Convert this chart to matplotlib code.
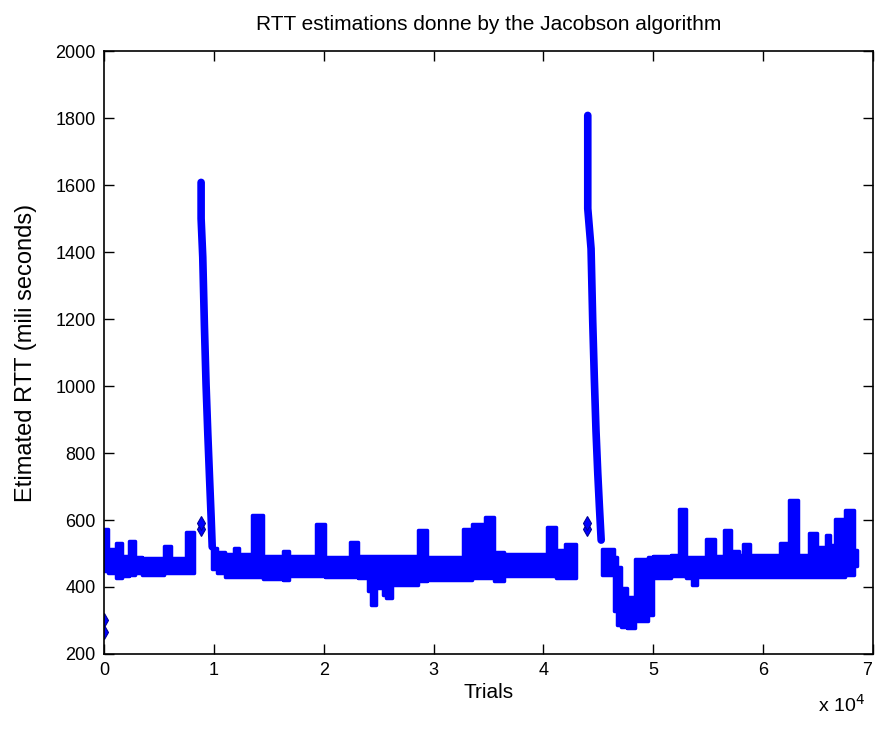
import numpy as np
import matplotlib
matplotlib.use('Agg')
import matplotlib.pyplot as plt
import matplotlib.transforms as mtransforms

plt.rcParams['font.family'] = ['Liberation Sans', 'DejaVu Sans']

# RTT band (start of each trial segment, lowest and highest estimate in it)
band_x = [0, 400, 1100, 1600, 2300, 2800, 3500, 5500, 6100, 7500, 8200, 8800,
          9800, 10300, 11000, 11800, 12300, 13500, 14500, 16300, 16800, 19300,
          20100, 22400, 23100, 24000, 24300, 24800, 25400, 25700, 26200, 28600,
          29400, 32700, 33500, 34700, 35500, 36400, 40300, 41100, 42000, 43000,
          44300, 45300, 46400, 46700, 47100, 47600, 48300, 49500, 50000, 51600,
          52300, 53000, 53500, 54000, 54800, 55600, 56400, 57100, 57800, 58200,
          58800, 61500, 62300, 63200, 64200, 64900, 65700, 66100, 66500, 67400,
          68300, 68500]
band_lo = [447, 442, 427, 432, 437, 442, 437, 442, 442, 442, 452, np.nan,
           455, 442, 429, 429, 429, 429, 425, 422, 434, 434,
           431, 431, 427, 387, 347, 397, 377, 367, 407, 417,
           422, 422, 427, 427, 417, 432, 432, 427, 427, 427,
           np.nan, 437, 327, 287, 282, 279, 297, 317, 427, 434,
           434, 427, 405, 429, 431, 431, 431, 431, 431, 431,
           431, 431, 431, 431, 431, 431, 431, 431, 431, 437,
           464, 464]
band_hi = [574, 514, 530, 494, 536, 489, 486, 521, 486, 564, 515, np.nan,
           516, 504, 499, 516, 499, 614, 494, 507, 492, 589,
           489, 534, 492, 492, 492, 492, 492, 492, 492, 569,
           489, 574, 589, 609, 504, 499, 579, 509, 529, 514,
           np.nan, 514, 489, 459, 397, 369, 484, 489, 494, 495,
           634, 490, 490, 490, 542, 494, 569, 506, 495, 527,
           495, 530, 659, 495, 560, 519, 555, 524, 604, 629,
           509, 509]

# the two RTT bursts
spike1_x = [8840, 8840, 8990, 9140, 9290, 9450, 9600, 9750, 9850]
spike1_y = [1608, 1500, 1385, 1180, 1005, 857, 732, 610, 520]
spike2_x = [44030, 44030, 44330, 44480, 44630, 44780, 44940, 45090, 45250]
spike2_y = [1808, 1530, 1410, 1195, 1020, 866, 740, 640, 540]

# isolated estimates
lone_x = [0, 0, 8800, 8800, 43950, 43950]
lone_y = [301, 266, 574, 590, 574, 590]

fig = plt.figure(figsize=(8.76, 7.29), dpi=100)
ax = fig.add_axes([0.1187, 0.1029, 0.878, 0.827])

blue = (0, 0, 1)
ax.fill_between(band_x, band_lo, band_hi, step='post', color=blue,
                lw=2.5, edgecolor=blue, joinstyle='round')
ax.plot(spike1_x, spike1_y, color=blue, lw=5.5, solid_capstyle='round')
ax.plot(spike2_x, spike2_y, color=blue, lw=5.5, solid_capstyle='round')
ax.plot(lone_x, lone_y, 'd', color=blue, ms=7, mec=(0, 0, 0.6), mew=0.8)

ax.set_xlim(0, 70000)
ax.set_ylim(200, 2000)
ax.set_xticks(np.arange(0, 70001, 10000))
ax.set_xticklabels([str(i) for i in range(8)])
ax.set_yticks(np.arange(200, 2001, 200))
ax.tick_params(direction='in', length=7, width=1, top=True, right=True,
               labelsize=13, pad=6)
for s in ax.spines.values():
    s.set_linewidth(1.2)

# keep the last tick label inside the figure
last = ax.get_xticklabels()[-1]
last.set_transform(last.get_transform() +
                   mtransforms.ScaledTranslation(-4 / 72, 0, fig.dpi_scale_trans))

ax.set_title('RTT estimations donne by the Jacobson algorithm', fontsize=15, pad=15)
ax.set_xlabel('Trials', fontsize=15, labelpad=3)
ax.set_ylabel('Etimated RTT (mili seconds)', fontsize=17, labelpad=13)
fig.text(0.961, 0.033, r'x 10$^4$', fontsize=14, ha='center', va='center')

fig.savefig('out.png', dpi=100)
